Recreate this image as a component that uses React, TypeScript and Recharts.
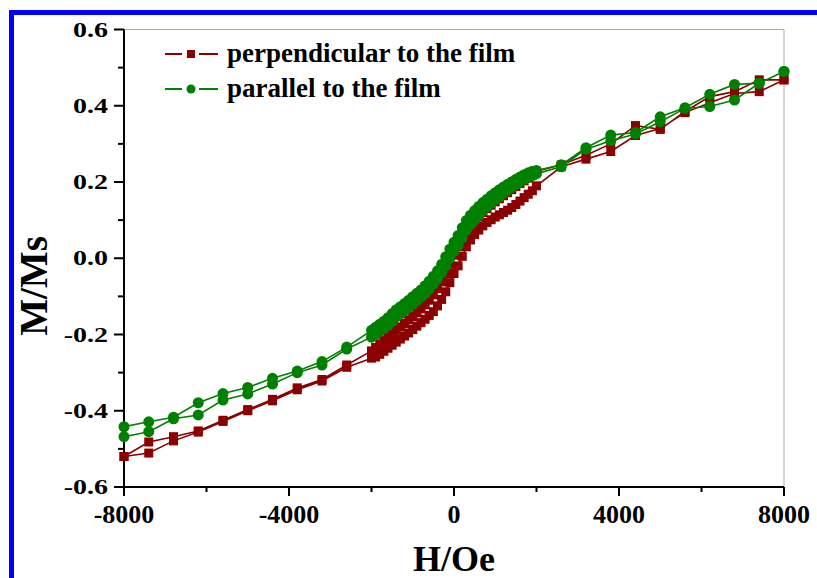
import React from 'react';
import { LineChart, Line, XAxis, YAxis, Legend, ReferenceLine } from 'recharts';

// applied field, measured from +8000 down to -8000 (coarse outside +-2000, fine inside)
const fieldDown = [
  8000, 7400, 6800, 6200, 5600, 5000, 4400, 3800, 3200, 2600,
  2000, 1900, 1800, 1700, 1600, 1500, 1400, 1300, 1200, 1100, 1000,
  900, 800, 700, 600, 500, 400, 300, 200, 100, 0,
  -100, -200, -300, -400, -500, -600, -700, -800, -900, -1000,
  -1100, -1200, -1300, -1400, -1500, -1600, -1700, -1800, -1900, -2000,
  -2600, -3200, -3800, -4400, -5000, -5600, -6200, -6800, -7400, -8000,
];
const fieldUp = [...fieldDown].reverse();

// perpendicular to the film
const perpDown = [
  0.468, 0.468, 0.437, 0.424, 0.385, 0.338, 0.348, 0.300, 0.270, 0.245,
  0.228, 0.218, 0.210, 0.203, 0.196, 0.188, 0.180, 0.172, 0.164, 0.156, 0.148,
  0.139, 0.130, 0.120, 0.109, 0.097, 0.084, 0.068, 0.050, 0.030, 0.008,
  -0.016, -0.040, -0.062, -0.080, -0.096, -0.110, -0.122, -0.133, -0.143, -0.153,
  -0.162, -0.171, -0.180, -0.189, -0.198, -0.207, -0.216, -0.225, -0.234, -0.243,
  -0.280, -0.318, -0.340, -0.370, -0.397, -0.425, -0.453, -0.468, -0.482, -0.520,
];
const perpUp = [
  -0.520, -0.511, -0.479, -0.456, -0.428, -0.400, -0.374, -0.345, -0.322, -0.286,
  -0.262, -0.259, -0.252, -0.244, -0.236, -0.228, -0.220, -0.212, -0.204, -0.196, -0.187,
  -0.178, -0.169, -0.160, -0.150, -0.140, -0.125, -0.108, -0.088, -0.064, -0.040,
  -0.020, 0.005, 0.030, 0.048, 0.062, 0.074, 0.085, 0.094, 0.101, 0.108,
  0.114, 0.120, 0.126, 0.133, 0.141, 0.150, 0.159, 0.168, 0.177, 0.190,
  0.240, 0.260, 0.280, 0.322, 0.340, 0.382, 0.408, 0.432, 0.437, 0.468,
];

// parallel to the film
const paraDown = [
  0.490, 0.459, 0.456, 0.430, 0.395, 0.371, 0.330, 0.323, 0.290, 0.245,
  0.230, 0.228, 0.224, 0.219, 0.213, 0.207, 0.200, 0.194, 0.187, 0.180, 0.172,
  0.164, 0.155, 0.146, 0.136, 0.125, 0.113, 0.099, 0.080, 0.060, 0.042,
  0.024, 0.004, -0.016, -0.033, -0.047, -0.060, -0.072, -0.083, -0.092, -0.101,
  -0.110, -0.119, -0.127, -0.135, -0.145, -0.156, -0.165, -0.173, -0.181, -0.189,
  -0.233, -0.271, -0.296, -0.315, -0.339, -0.355, -0.379, -0.417, -0.429, -0.442,
];
const paraUp = [
  -0.468, -0.455, -0.421, -0.411, -0.372, -0.356, -0.330, -0.300, -0.280, -0.238,
  -0.207, -0.200, -0.192, -0.184, -0.176, -0.166, -0.154, -0.146, -0.138, -0.129, -0.120,
  -0.111, -0.102, -0.093, -0.081, -0.068, -0.054, -0.038, -0.020, 0.000, 0.018,
  0.034, 0.053, 0.074, 0.088, 0.100, 0.112, 0.124, 0.135, 0.144, 0.154,
  0.162, 0.171, 0.178, 0.186, 0.193, 0.200, 0.207, 0.213, 0.217, 0.222,
  0.240, 0.286, 0.308, 0.326, 0.358, 0.393, 0.398, 0.415, 0.459, 0.490,
];

const xTicks = [-8000, -6000, -4000, -2000, 0, 2000, 4000, 6000, 8000];
const yTicks = [-0.6, -0.5, -0.4, -0.3, -0.2, -0.1, 0, 0.1, 0.2, 0.3, 0.4, 0.5, 0.6];

const RED = '#8b0000';
const GREEN = '#008000';
const SERIF = '"Liberation Serif", "Times New Roman", serif';

const loop = (down: number[], up: number[]) =>
  fieldDown.map((h, i) => ({ h, m: down[i] })).concat(fieldUp.map((h, i) => ({ h, m: up[i] })));

const perpData = loop(perpDown, perpUp);
const paraData = loop(paraDown, paraUp);

const legendItems = [
  { name: 'perpendicular to the film', color: RED, shape: 'square' },
  { name: 'parallel to the film', color: GREEN, shape: 'circle' },
];

const XTick = (props: any) => {
  const { x, y, payload } = props;
  const major = payload.value % 4000 === 0;
  return (
    <g>
      <line x1={x} y1={y} x2={x} y2={y + (major ? 9 : 5)} stroke="#000" strokeWidth={2} />
      {major && (
        <text x={x} y={y + 36} textAnchor="middle" fontFamily={SERIF} fontWeight="bold" fontSize={26} fill="#000">
          {payload.value}
        </text>
      )}
    </g>
  );
};

const YTick = (props: any) => {
  const { x, y, payload } = props;
  const major = Math.round(payload.value * 10) % 2 === 0;
  return (
    <g>
      <line x1={x} y1={y} x2={x - (major ? 10 : 6)} y2={y} stroke="#000" strokeWidth={2} />
      {major && (
        <text
          transform={`translate(${x - 16},${y}) scale(1.4,1)`}
          textAnchor="end"
          dy="0.36em"
          fontFamily={SERIF}
          fontWeight="bold"
          fontSize={20}
          fill="#000"
        >
          {payload.value.toFixed(1)}
        </text>
      )}
    </g>
  );
};

const SquareDot = (p: any) => (
  <rect key={`s-${p.index}`} x={p.cx - 4.5} y={p.cy - 4.5} width={9} height={9} fill={RED} />
);
const CircleDot = (p: any) => <circle key={`c-${p.index}`} cx={p.cx} cy={p.cy} r={5.5} fill={GREEN} />;

const LegendBox = () => (
  <div style={{ fontFamily: SERIF, fontWeight: 'bold', fontSize: 27, color: '#000' }}>
    {legendItems.map((item) => (
      <div key={item.name} style={{ display: 'flex', alignItems: 'center', height: 35, whiteSpace: 'nowrap' }}>
        <svg width={62} height={20}>
          <line x1={0} y1={10} x2={17} y2={10} stroke={item.color} strokeWidth={2} />
          <line x1={34} y1={10} x2={53} y2={10} stroke={item.color} strokeWidth={2} />
          {item.shape === 'square' ? (
            <rect x={22} y={6} width={8} height={8} fill={item.color} />
          ) : (
            <circle cx={26} cy={10} r={4.5} fill={item.color} />
          )}
        </svg>
        <span>{item.name}</span>
      </div>
    ))}
  </div>
);

const XLabel = ({ viewBox }: any) => (
  <text x={viewBox.x + viewBox.width / 2} y={viewBox.y + 84} textAnchor="middle" fontFamily={SERIF} fontWeight="bold" fontSize={36} fill="#000">
    H/Oe
  </text>
);

const YLabel = () => (
  <text x={47} y={286} transform="rotate(-90, 47, 286)" textAnchor="middle" fontFamily={SERIF} fontWeight="bold" fontSize={39} fill="#000">
    M/Ms
  </text>
);

export default function App() {
  return (
    <div style={{ position: 'absolute', left: 0, top: 0, width: 817, height: 578, background: '#fff', overflow: 'hidden' }}>
      <LineChart width={817} height={578} margin={{ top: 29.5, right: 33, left: 0, bottom: 0 }}>
        <XAxis
          dataKey="h"
          type="number"
          domain={[-8000, 8000]}
          ticks={xTicks}
          interval={0}
          height={91}
          tickSize={0}
          tickMargin={0}
          tickLine={false}
          tick={<XTick />}
          axisLine={{ stroke: '#000', strokeWidth: 2 }}
          label={<XLabel />}
        />
        <YAxis
          dataKey="m"
          type="number"
          domain={[-0.6, 0.6]}
          ticks={yTicks}
          interval={0}
          width={124}
          tickSize={0}
          tickMargin={0}
          tickLine={false}
          tick={<YTick />}
          axisLine={{ stroke: '#000', strokeWidth: 2 }}
          label={<YLabel />}
        />
        <ReferenceLine y={0.6} stroke="#aaaaaa" strokeWidth={1} />
        <ReferenceLine x={8000} stroke="#aaaaaa" strokeWidth={1} />
        <Legend
          layout="horizontal"
          verticalAlign="middle"
          align="center"
          content={<LegendBox />}
          wrapperStyle={{ left: 165, top: 36, width: 'auto', height: 'auto' }}
        />
        <Line
          data={perpData}
          dataKey="m"
          type="linear"
          stroke={RED}
          strokeWidth={1.6}
          dot={SquareDot}
          activeDot={false}
          isAnimationActive={false}
        />
        <Line
          data={paraData}
          dataKey="m"
          type="linear"
          stroke={GREEN}
          strokeWidth={1.6}
          dot={CircleDot}
          activeDot={false}
          isAnimationActive={false}
        />
      </LineChart>
      <div style={{ position: 'absolute', left: 9, top: 10, width: 808, height: 5, background: '#0000ff' }} />
      <div style={{ position: 'absolute', left: 9, top: 10, width: 5, height: 568, background: '#0000ff' }} />
    </div>
  );
}
